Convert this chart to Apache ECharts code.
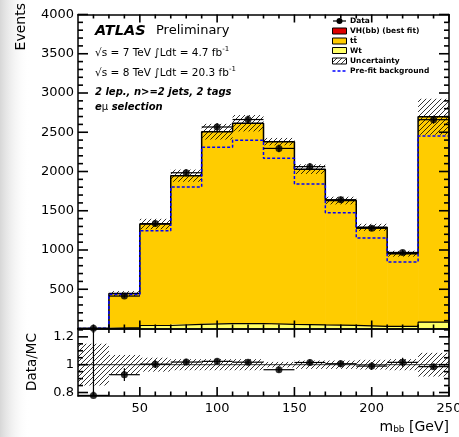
<!DOCTYPE html>
<html><head><meta charset="utf-8">
<script src="https://cdn.jsdelivr.net/npm/echarts@6/dist/echarts.min.js"></script>
<style>html,body{margin:0;padding:0;background:#fff}#c{width:459px;height:437px}</style>
</head><body><div id="c"></div>
<script>
// ---- data ----
const binEdges   = [10,30,50,70,90,110,130,150,170,190,210,230,250];
const binCenters = [20,40,60,80,100,120,140,160,180,200,220,240];
const dataCounts = [3,413,1336,1984,2567,2662,2294,2062,1641,1276,969,2660];
const ttbar      = [3.05,434,1291,1892,2442,2548,2326,1983,1589,1260,926,2617];
const wt         = [0.7,10,38,52,62,64,52,45,40,28,26,80];
const vhbb       = [0.1,1,2,3,3,3,2,2,1,1,1,1];
const uncRel     = [0.15,0.07,0.05,0.04,0.04,0.04,0.02,0.03,0.03,0.035,0.04,0.085];
const prefit     = [4,432,1246,1803,2308,2397,2168,1841,1475,1153,847,2452];
const yMainTicks = [500,1000,1500,2000,2500,3000,3500,4000];
const yMainMinor = [100,200,300,400,600,700,800,900,1100,1200,1300,1400,1600,1700,1800,1900,2100,2200,2300,2400,2600,2700,2800,2900,3100,3200,3300,3400,3600,3700,3800,3900];
const xTicks     = [50,100,150,200,250];
const xMinor     = [20,30,40,60,70,80,90,110,120,130,140,160,170,180,190,210,220,230,240];
const rTicks     = [0.8,1,1.2];
const rMinor     = [0.85,0.9,0.95,1.05,1.1,1.15,1.25];

const X_MIN=10, X_MAX=250, Y_MAX=4000, R_MIN=0.775, R_MAX=1.26;
const GRID_L=78, GRID_W=371, MAIN_T=14.5, MAIN_H=314, RATIO_T=328.5, RATIO_H=67.5;
const FONT='DejaVu Sans';

// ---- derived ----
const total = ttbar.map((v,i)=>v+wt[i]+vhbb[i]);
function steps(vals){
  const pts=[[binEdges[0],0]];
  vals.forEach((v,i)=>{pts.push([binEdges[i],v]);pts.push([binEdges[i+1],v]);});
  pts.push([binEdges[binEdges.length-1],0]);
  return pts;
}
const errUp = n=>0.5+Math.sqrt(n+0.25);
const errDn = n=>-0.5+Math.sqrt(n+0.25);

function hatchCanvas(){
  const c=document.createElement('canvas'); c.width=5; c.height=5;
  const g=c.getContext('2d'); g.strokeStyle='#000'; g.lineWidth=0.8;
  g.beginPath(); g.moveTo(0,5); g.lineTo(5,0); g.moveTo(-1,1); g.lineTo(1,-1); g.moveTo(4,6); g.lineTo(6,4); g.stroke();
  return c;
}
const hatch={image:hatchCanvas(),repeat:'repeat'};

function rectRender(fill,overlap){
  return function(params,api){
    const a=api.coord([api.value(0),api.value(2)]), b=api.coord([api.value(1),api.value(3)]);
    return {type:'rect',shape:{x:a[0],y:b[1],width:b[0]-a[0]+(overlap||0),height:a[1]-b[1]},style:{fill:fill}};
  };
}
function errRender(params,api){
  const c=api.coord([api.value(0),api.value(1)]);
  const l=api.coord([api.value(2),api.value(1)]), r=api.coord([api.value(3),api.value(1)]);
  const lo=api.coord([api.value(0),api.value(4)]), hi=api.coord([api.value(0),api.value(5)]);
  const st={stroke:'#000',lineWidth:1.2};
  return {type:'group',children:[
    {type:'line',shape:{x1:l[0],y1:c[1],x2:r[0],y2:c[1]},style:st},
    {type:'line',shape:{x1:c[0],y1:lo[1],x2:c[0],y2:hi[1]},style:st}
  ]};
}
// inward frame ticks as a custom series: each item is one tick [x0,y0,x1,y1] in data units
function tickItems(ymin,ymax,hpx,xMaj,xMin,xl,xs,yMaj,yMin,yl,ys){
  const dy=(ymax-ymin)/hpx, dx=(X_MAX-X_MIN)/GRID_W, d=[];
  [[xMaj,xl],[xMin,xs]].forEach(([vals,len])=>vals.forEach(v=>{
    d.push([v,ymin,v,ymin+len*dy]); d.push([v,ymax,v,ymax-len*dy]);
  }));
  [[yMaj,yl],[yMin,ys]].forEach(([vals,len])=>vals.forEach(v=>{
    d.push([X_MIN,v,X_MIN+len*dx,v]); d.push([X_MAX,v,X_MAX-len*dx,v]);
  }));
  return d;
}
function tickRender(params,api){
  const a=api.coord([api.value(0),api.value(1)]), b=api.coord([api.value(2),api.value(3)]);
  return {type:'group',children:[
    {type:'line',shape:{x1:a[0],y1:a[1],x2:b[0],y2:b[1]},style:{stroke:'#000',lineWidth:1.6}}
  ]};
}

const labelStyle={color:'#000',fontFamily:FONT,fontSize:13};
function mkX(grid,pos,labels){
  return {type:'value',gridIndex:grid,position:pos,min:X_MIN,max:X_MAX,z:10,
    axisLine:{show:true,onZero:false,lineStyle:{color:'#000',width:1.5}},
    axisTick:{show:false},
    axisLabel:labels?Object.assign({show:true,customValues:labels,margin:6},labelStyle):{show:false},
    splitLine:{show:false}};
}
function mkY(grid,pos,min,max,labels,fmt){
  return {type:'value',gridIndex:grid,position:pos,min:min,max:max,z:10,
    axisLine:{show:true,onZero:false,lineStyle:{color:'#000',width:1.5}},
    axisTick:{show:false},
    axisLabel:labels?Object.assign({show:true,customValues:labels,margin:4,formatter:fmt},labelStyle):{show:false},
    splitLine:{show:false}};
}

const chart=echarts.init(document.getElementById('c'),null,{renderer:'canvas',width:459,height:437});

const mainBand = binCenters.map((c,i)=>[binEdges[i],binEdges[i+1],total[i]*(1-uncRel[i]),total[i]*(1+uncRel[i])]);
const ratioBand = binCenters.map((c,i)=>[binEdges[i],binEdges[i+1],1-uncRel[i],1+uncRel[i]]);
const wtRects = binCenters.map((c,i)=>[binEdges[i],binEdges[i+1],0,wt[i]]);
const ttRects = binCenters.map((c,i)=>[binEdges[i],binEdges[i+1],wt[i],wt[i]+ttbar[i]]);
const vhRects = binCenters.map((c,i)=>[binEdges[i],binEdges[i+1],wt[i]+ttbar[i],total[i]]);
const dataErr = binCenters.map((c,i)=>[c,dataCounts[i],binEdges[i],binEdges[i+1],dataCounts[i]-errDn(dataCounts[i]),dataCounts[i]+errUp(dataCounts[i])]);
const ratio = binCenters.map((c,i)=>dataCounts[i]/total[i]);
const ratioErr = binCenters.map((c,i)=>[c,ratio[i],binEdges[i],binEdges[i+1],
  Math.max(R_MIN,(dataCounts[i]-errDn(dataCounts[i]))/total[i]),Math.min(R_MAX,(dataCounts[i]+errUp(dataCounts[i]))/total[i])]);

const graphics=[
    {type:'rect',z:-10,silent:true,shape:{x:0,y:0,width:30,height:437},
      style:{fill:new echarts.graphic.LinearGradient(0,0,1,0,[{offset:0,color:'rgba(215,215,215,1)'},{offset:1,color:'rgba(255,255,255,0)'}])}},
    {type:'text',x:21,y:3,rotation:Math.PI/2,style:{text:'Events',font:'14px "DejaVu Sans"',fill:'#000',align:'right',verticalAlign:'middle'}},
    {type:'text',x:32,y:362,rotation:Math.PI/2,style:{text:'Data/MC',font:'13.5px "DejaVu Sans"',fill:'#000',align:'center',verticalAlign:'middle'}},
    {type:'text',x:449,y:427,style:{text:'m{sub|bb} [GeV]',font:'14px "DejaVu Sans"',fill:'#000',align:'right',verticalAlign:'middle',
      rich:{sub:{font:'9px "DejaVu Sans"',padding:[6,0,0,0]}}}},
    {type:'text',x:95,y:31,style:{text:'ATLAS',font:'italic bold 14.5px "DejaVu Sans"',fill:'#000',verticalAlign:'middle'}},
    {type:'text',x:156,y:31,style:{text:'Preliminary',font:'13px "DejaVu Sans"',fill:'#000',verticalAlign:'middle'}},
    {type:'text',x:95,y:53,style:{text:'√s = 7 TeV ∫Ldt = 4.7 fb{sup|-1}',font:'10.5px "DejaVu Sans"',fill:'#000',verticalAlign:'middle',
      rich:{sup:{font:'7px "DejaVu Sans"',padding:[0,0,7,0]}}}},
    {type:'text',x:95,y:73,style:{text:'√s = 8 TeV ∫Ldt = 20.3 fb{sup|-1}',font:'10.5px "DejaVu Sans"',fill:'#000',verticalAlign:'middle',
      rich:{sup:{font:'7px "DejaVu Sans"',padding:[0,0,7,0]}}}},
    {type:'text',x:95,y:92,style:{text:'2 lep., n>=2 jets, 2 tags',font:'italic bold 10px "DejaVu Sans"',fill:'#000',verticalAlign:'middle'}},
    {type:'text',x:95,y:107.5,style:{text:'e{mu|μ} selection',font:'italic bold 10px "DejaVu Sans"',fill:'#000',verticalAlign:'middle',
      rich:{mu:{font:'10px "DejaVu Sans"'}}}},
    // legend
    {type:'line',shape:{x1:333,y1:21,x2:346,y2:21},style:{stroke:'#000',lineWidth:1.2}},
    {type:'circle',shape:{cx:339.5,cy:21,r:3},style:{fill:'#000'}},
    {type:'rect',shape:{x:332.5,y:28,width:14,height:6},style:{fill:'#dd0000',stroke:'#000',lineWidth:1}},
    {type:'rect',shape:{x:332.5,y:38,width:14,height:6},style:{fill:'#ffcc00',stroke:'#000',lineWidth:1}},
    {type:'rect',shape:{x:332.5,y:47.5,width:14,height:6},style:{fill:'#ffff66',stroke:'#000',lineWidth:1}},
    {type:'rect',shape:{x:332.5,y:58,width:14,height:6},style:{fill:hatch,stroke:'#000',lineWidth:1}},
    {type:'line',shape:{x1:332.5,y1:71,x2:347,y2:71},style:{stroke:'#0000ff',lineWidth:1.5,lineDash:[3,2]}},
    {type:'text',x:350,y:21,style:{text:'Data',font:'bold 7.5px "DejaVu Sans"',fill:'#000',verticalAlign:'middle'}},
    {type:'text',x:350,y:31,style:{text:'VH(bb) (best fit)',font:'bold 7.5px "DejaVu Sans"',fill:'#000',verticalAlign:'middle'}},
    {type:'text',x:350,y:41,style:{text:'tt\u0304',font:'bold 7.5px "DejaVu Sans"',fill:'#000',verticalAlign:'middle'}},
    {type:'text',x:350,y:50.7,style:{text:'Wt',font:'bold 7.5px "DejaVu Sans"',fill:'#000',verticalAlign:'middle'}},
    {type:'text',x:350,y:61,style:{text:'Uncertainty',font:'bold 7.5px "DejaVu Sans"',fill:'#000',verticalAlign:'middle'}},
    {type:'text',x:350,y:71,style:{text:'Pre-fit background',font:'bold 7.5px "DejaVu Sans"',fill:'#000',verticalAlign:'middle'}}
];

const option={
  backgroundColor:'#ffffff',
  animation:false,
  grid:[
    {left:GRID_L,top:MAIN_T,width:GRID_W,height:MAIN_H,containLabel:false,outerBoundsMode:'none'},
    {left:GRID_L,top:RATIO_T,width:GRID_W,height:RATIO_H,containLabel:false,outerBoundsMode:'none'}
  ],
  xAxis:[
    mkX(0,'bottom',null),
    mkX(0,'top',null),
    mkX(1,'bottom',xTicks),
    mkX(1,'top',null)
  ],
  yAxis:[
    mkY(0,'left',0,Y_MAX,yMainTicks,v=>String(v)),
    mkY(0,'right',0,Y_MAX,null),
    mkY(1,'left',R_MIN,R_MAX,rTicks,v=>(Math.abs(v-1)<1e-9?'1':v.toFixed(1))),
    mkY(1,'right',R_MIN,R_MAX,null)
  ],
  series:[
    {type:'custom',name:'Wt',xAxisIndex:0,yAxisIndex:0,renderItem:rectRender('#ffff66',0.6),encode:{x:[0,1],y:[2,3]},data:wtRects,z:1},
    {type:'custom',name:'ttbar',xAxisIndex:0,yAxisIndex:0,renderItem:rectRender('#ffcc00',0.6),encode:{x:[0,1],y:[2,3]},data:ttRects,z:1},
    {type:'custom',name:'VH(bb)',xAxisIndex:0,yAxisIndex:0,renderItem:rectRender('#dd0000',0.6),encode:{x:[0,1],y:[2,3]},data:vhRects,z:1},
    {type:'line',name:'Wt outline',xAxisIndex:0,yAxisIndex:0,data:steps(wt),symbol:'none',lineStyle:{color:'#000',width:1.2},z:3},
    {type:'line',name:'stack outline',xAxisIndex:0,yAxisIndex:0,data:steps(total),symbol:'none',lineStyle:{color:'#000',width:1.5},z:3},
    {type:'custom',name:'Uncertainty',xAxisIndex:0,yAxisIndex:0,renderItem:rectRender(hatch,0),encode:{x:[0,1],y:[2,3]},data:mainBand,z:4},
    {type:'line',name:'Pre-fit background',xAxisIndex:0,yAxisIndex:0,data:steps(prefit),symbol:'none',lineStyle:{color:'#0000ff',width:1.5,type:[3,2]},z:5},
    {type:'custom',name:'Data err',xAxisIndex:0,yAxisIndex:0,renderItem:errRender,encode:{x:[0,2,3],y:[1,4,5]},data:dataErr,z:6},
    {type:'scatter',name:'Data',xAxisIndex:0,yAxisIndex:0,data:binCenters.map((c,i)=>[c,dataCounts[i]]),symbol:'circle',symbolSize:7,itemStyle:{color:'#000'},z:7},
    {type:'custom',name:'frame ticks main',xAxisIndex:0,yAxisIndex:0,renderItem:tickRender,encode:{x:[0,2],y:[1,3]},
      data:tickItems(0,Y_MAX,MAIN_H,xTicks,xMinor,8,4,yMainTicks,yMainMinor,10,5),z:20},
    // ratio
    {type:'custom',name:'Unc ratio',xAxisIndex:2,yAxisIndex:2,renderItem:rectRender(hatch,0),encode:{x:[0,1],y:[2,3]},data:ratioBand,z:2},
    {type:'line',name:'unity',xAxisIndex:2,yAxisIndex:2,data:[[X_MIN,1],[X_MAX,1]],symbol:'none',lineStyle:{color:'#000',width:0.8},z:3},
    {type:'custom',name:'Ratio err',xAxisIndex:2,yAxisIndex:2,renderItem:errRender,encode:{x:[0,2,3],y:[1,4,5]},data:ratioErr,z:6},
    {type:'scatter',name:'Ratio',xAxisIndex:2,yAxisIndex:2,data:binCenters.map((c,i)=>[c,ratio[i]]),symbol:'circle',symbolSize:7,itemStyle:{color:'#000'},z:7},
    {type:'custom',name:'frame ticks ratio',xAxisIndex:2,yAxisIndex:2,renderItem:tickRender,encode:{x:[0,2],y:[1,3]},
      data:tickItems(R_MIN,R_MAX,RATIO_H,xTicks,xMinor,9,4.5,rTicks,rMinor,10,5),z:20}
  ],
  graphic:graphics
};
chart.setOption(option);
</script>
</body></html>
